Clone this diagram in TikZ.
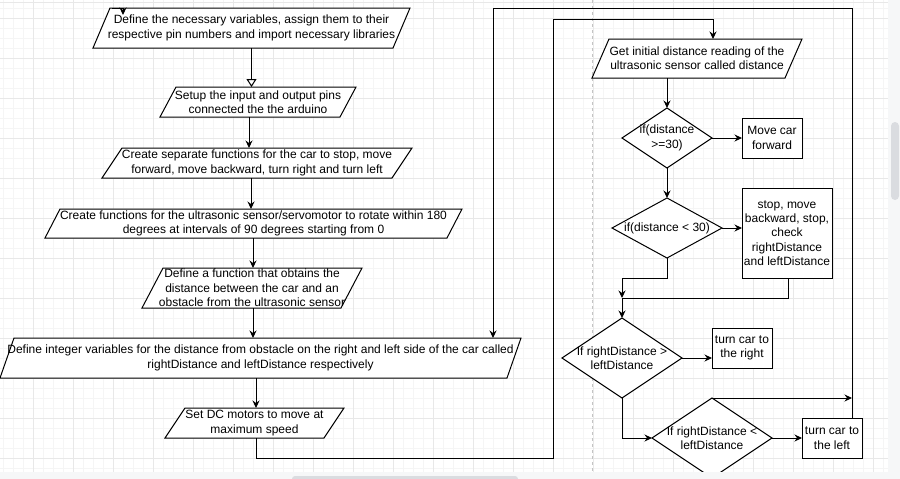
\documentclass[tikz,border=0pt]{standalone}
\usepackage{fontspec}
\setmainfont{Liberation Sans}
\usetikzlibrary{arrows.meta}
\pgfdeclarelayer{gridl}
\pgfdeclarelayer{shapel}
\pgfdeclarelayer{front}
\pgfsetlayers{gridl,shapel,main,front}
\definecolor{gmin}{HTML}{F5F5F5}
\definecolor{gmaj}{HTML}{E8E8E8}
\definecolor{pagebrk}{HTML}{C4C4C4}
\definecolor{barbg}{HTML}{F6F7F8}
\definecolor{thumb}{HTML}{DADCE0}
\newcommand\mypara[2]{\draw[shp] ([xshift=#2pt]#1.north west) -- (#1.north east) -- ([xshift=-#2pt]#1.south east) -- (#1.south west) -- cycle;}
\newcommand\mydiam[1]{\draw[shp] (#1.north) -- (#1.east) -- (#1.south) -- (#1.west) -- cycle;}
\begin{document}
\begin{tikzpicture}[x=1pt,y=-1pt,
  txt/.style={draw=none, inner sep=0pt, outer sep=0pt, align=center, text=black,
    font=\fontsize{12}{14.4}\selectfont},
  rbox/.style={txt, draw=black, fill=white, line width=1pt},
  shp/.style={draw=black, fill=white, line width=1pt, line join=miter},
  arr/.style={draw=black, line width=1pt, -{Stealth[length=7.5pt,width=7pt,inset=2.5pt]}},
  oarr/.style={draw=black, line width=1pt, -{Triangle[open,length=8pt,width=10pt]}},
  minorl/.style={draw=gmin, line width=0.7pt},
  majorl/.style={draw=gmaj, line width=0.7pt}]
\useasboundingbox (0,0) rectangle (900,479);
\begin{pgfonlayer}{gridl}
  \fill[white] (0,0) rectangle (900,479);
  \foreach \x in {3,13,...,883} \draw[minorl] (\x,0) -- (\x,472);
  \foreach \y in {8,18,...,468} \draw[minorl] (0,\y) -- (888,\y);
  \foreach \x in {33,73,...,873} \draw[majorl] (\x,0) -- (\x,472);
  \foreach \y in {18,58,...,458} \draw[majorl] (0,\y) -- (888,\y);
  \draw[majorl] (0,2) -- (888,2);
  \draw[pagebrk, line width=0.8pt, dash pattern=on 3pt off 3pt] (592,0) -- (592,472);
\end{pgfonlayer}

% left column
\node[txt, minimum width=317pt, minimum height=40pt] (n1) at (251.5,28) {Define the necessary variables, assign them to their\\respective pin numbers and import necessary libraries};
\node[txt, minimum width=196pt, minimum height=30pt] (n2) at (258,102) {Setup the input and output pins\\connected the the arduino};
\node[txt, minimum width=310pt, minimum height=30pt] (n3) at (257,163) {Create separate functions for the car to stop, move\\forward, move backward, turn right and turn left};
\node[txt, minimum width=417pt, minimum height=29pt] (n4) at (253.5,223.5) {Create functions for the ultrasonic sensor/servomotor to rotate within 180\\degrees at intervals of 90 degrees starting from 0};
\node[txt, minimum width=220pt, minimum height=40pt] (n5) at (252,288) {Define a function that obtains the\\distance between the car and an\\obstacle from the ultrasonic sensor};
\node[txt, minimum width=521pt, minimum height=40pt] (n6) at (260.5,358) {Define integer variables for the distance from obstacle on the right and left side of the car called\\rightDistance and leftDistance respectively};
\node[txt, minimum width=179pt, minimum height=30pt] (n8) at (254.5,423) {Set DC motors to move at\\maximum speed};

% right column
\node[txt, minimum width=210pt, minimum height=39pt] (n7) at (697,58.5) {Get initial distance reading of the\\ultrasonic sensor called distance};
\node[txt, minimum width=90pt, minimum height=60pt] (d1) at (667,138) {if(distance\\>=30)};
\node[rbox, minimum width=60pt, minimum height=40pt] (mf) at (772,138) {Move car\\forward};
\node[txt, minimum width=110pt, minimum height=60pt] (d2) at (667,228) {if(distance < 30)};
\node[rbox, minimum width=90pt, minimum height=90pt] (sb) at (787,233) {stop, move\\backward, stop,\\check\\rightDistance\\and leftDistance};
\node[txt, minimum width=120pt, minimum height=80pt] (d3) at (622,358) {If rightDistance >\\leftDistance};
\node[rbox, minimum width=60pt, minimum height=40pt] (tr) at (742,348) {turn car to\\the right};
\node[txt, minimum width=120pt, minimum height=80pt] (d4) at (712,438) {If rightDistance <\\leftDistance};
\node[rbox, minimum width=60pt, minimum height=40pt] (tl) at (832,438) {turn car to\\the left};

\begin{pgfonlayer}{shapel}
  \mypara{n1}{17}
  \mypara{n2}{16}
  \mypara{n3}{20}
  \mypara{n4}{15}
  \mypara{n5}{21}
  \mypara{n6}{14}
  \mypara{n8}{20}
  \mypara{n7}{17}
  \mydiam{d1}
  \mydiam{d2}
  \mydiam{d3}
  \mydiam{d4}
\end{pgfonlayer}

% helper coordinates
\coordinate (s0) at (112,8);
\coordinate (s1) at (123,15);
\coordinate (tr1) at (852,8);
\coordinate (tl1) at (493,8);
\coordinate (l1a) at (553,458);
\coordinate (l1b) at (553,19);
\coordinate (j) at (622,298);

% connectors, left column
\draw[arr] (s0) -| (s1);
\draw[oarr] (n1.south) -- (n1.south |- n2.north);
\draw[arr] ([xshift=-9pt]n2.south) coordinate (t23) -- (t23 |- n3.north);
\draw[arr] ([xshift=-6pt]n3.south) coordinate (t34) -- (t34 |- n4.north);
\draw[arr] ([xshift=-0.5pt]n4.south) coordinate (t45) -- (t45 |- n5.north);
\draw[arr] ([xshift=1pt]n5.south) coordinate (t56) -- (t56 |- n6.north);
\draw[arr] ([xshift=-4.5pt]n6.south) coordinate (t68) -- (t68 |- n8.north);

% loops
\draw[arr] ([xshift=1.5pt]n8.south) |- (l1a) -- (l1b) -| ([xshift=16pt]n7.north);
\draw[arr] ([xshift=20pt]tl.north) -- (tr1) -- (tl1) -- (tl1 |- n6.north);

% right column
\draw[arr] ([xshift=-30pt]n7.south) -- (d1.north);
\draw[arr] (d1.east) -- (mf.west);
\draw[arr] (d1.south) -- (d2.north);
\draw[arr] (d2.east) -- (d2.east -| sb.west);
\draw[arr] (d2.south) -- ++(0,20) -| (j);
\draw[arr] ([xshift=1pt]sb.south) |- (j) -- (d3.north);
\draw[arr] (d3.east) -- (d3.east -| tr.west);
\draw[arr] (d3.south) |- (d4.west);
\draw[arr] (d4.east) -- (tl.west);
\draw[arr] (d4.north) -- (d4.north -| tr1);

\begin{pgfonlayer}{front}
  \fill[barbg] (888,0) rectangle (900,479);
  \fill[barbg] (0,472) rectangle (900,479);
  \fill[thumb, rounded corners=4pt] (891,122) rectangle (899,200);
  \fill[thumb, rounded corners=3pt] (292,476) rectangle (518,484);
\end{pgfonlayer}
\end{tikzpicture}
\end{document}
